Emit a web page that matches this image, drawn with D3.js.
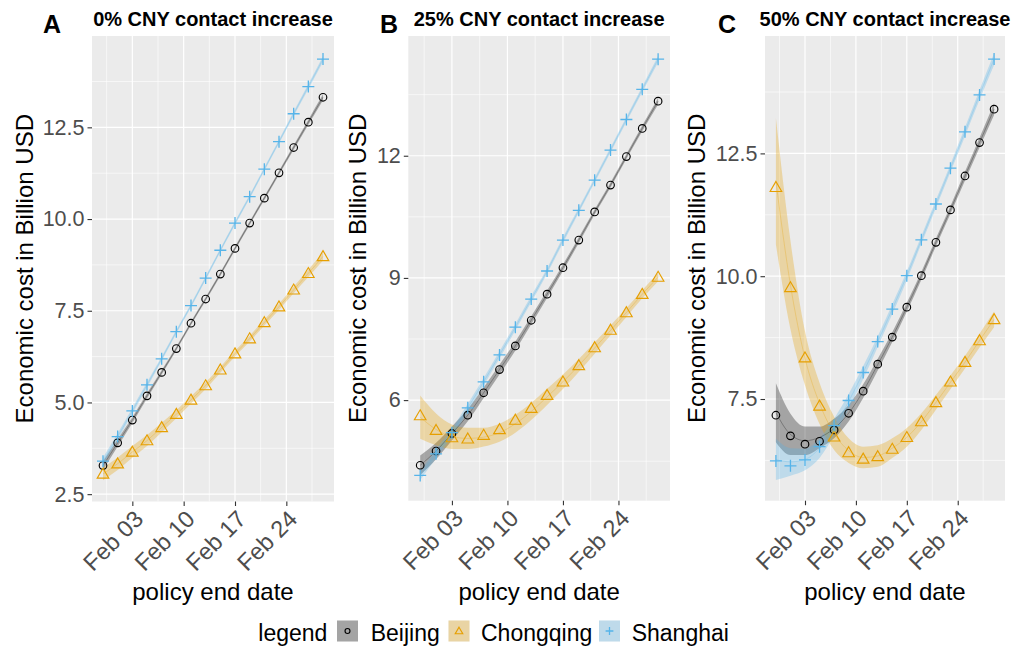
<!DOCTYPE html>
<html><head><meta charset="utf-8">
<script src="https://cdn.jsdelivr.net/npm/d3@7"></script>
<style>
body{margin:0;background:#fff;}
text{font-family:"Liberation Sans",Arial,sans-serif;}
</style>
</head><body>
<svg id="c" width="1029" height="650"></svg>
<script>
// ---------- DATA ----------
const dates = ["2020-01-30","2020-02-01","2020-02-03","2020-02-05","2020-02-07","2020-02-09","2020-02-11","2020-02-13",
               "2020-02-15","2020-02-17","2020-02-19","2020-02-21","2020-02-23","2020-02-25","2020-02-27","2020-02-29"];
const cities = ["Beijing","Chongqing","Shanghai"];
const xTickDates = ["2020-02-03","2020-02-10","2020-02-17","2020-02-24"];
const xTickLabels = ["Feb 03","Feb 10","Feb 17","Feb 24"];
const panelLetters = ["A","B","C"];
const panelTitles = ["0% CNY contact increase","25% CNY contact increase","50% CNY contact increase"];
const yTicksA = [2.5,5.0,7.5,10.0,12.5];
const yTicksB = [6,9,12];
const yTicksC = [7.5,10.0,12.5];

// Panel A
const beijingA   = [3.28,3.90,4.52,5.18,5.82,6.47,7.16,7.82,8.50,9.20,9.89,10.57,11.26,11.95,12.64,13.32];
const chongqingA = [3.05,3.33,3.65,3.96,4.32,4.68,5.07,5.46,5.89,6.33,6.74,7.18,7.61,8.07,8.52,8.98];
const shanghaiA  = [3.40,4.07,4.77,5.48,6.19,6.93,7.64,8.39,9.15,9.89,10.61,11.36,12.11,12.87,13.61,14.36];
const beijingA_se   = [0.12,0.10,0.08,0.07,0.06,0.05,0.05,0.05,0.05,0.05,0.05,0.05,0.05,0.06,0.07,0.08];
const chongqingA_se = [0.17,0.17,0.16,0.15,0.13,0.11,0.10,0.09,0.08,0.08,0.08,0.08,0.08,0.09,0.10,0.11];
const shanghaiA_se  = [0.10,0.09,0.08,0.07,0.06,0.05,0.05,0.05,0.05,0.05,0.05,0.05,0.05,0.06,0.07,0.08];

// Panel B
const beijingB   = [4.40,4.75,5.18,5.63,6.18,6.75,7.33,7.96,8.60,9.25,9.93,10.62,11.28,11.98,12.67,13.34];
const chongqingB = [5.62,5.26,5.08,5.05,5.14,5.28,5.51,5.80,6.12,6.45,6.85,7.29,7.72,8.15,8.60,9.02];
const shanghaiB  = [4.15,4.68,5.20,5.81,6.45,7.11,7.79,8.48,9.17,9.93,10.66,11.40,12.14,12.89,13.63,14.37];
const chongqingB_fit = [5.58,5.28,5.10,5.06,5.09,5.20,5.42,5.72,6.08,6.45,6.85,7.28,7.71,8.15,8.60,9.02];
const beijingB_se   = [0.24,0.20,0.17,0.15,0.13,0.12,0.11,0.10,0.09,0.08,0.07,0.06,0.06,0.06,0.07,0.08];
const chongqingB_se = [0.53,0.39,0.30,0.26,0.23,0.22,0.22,0.21,0.20,0.18,0.16,0.14,0.12,0.11,0.10,0.10];
const shanghaiB_se  = [0.11,0.11,0.10,0.10,0.09,0.09,0.08,0.08,0.07,0.07,0.06,0.06,0.06,0.06,0.07,0.08];

// Panel C
const beijingC   = [7.17,6.75,6.58,6.64,6.87,7.21,7.66,8.21,8.76,9.37,10.01,10.69,11.35,12.04,12.72,13.40];
const chongqingC = [11.81,9.77,8.34,7.36,6.73,6.41,6.28,6.33,6.48,6.72,7.04,7.43,7.85,8.25,8.69,9.12];
const shanghaiC  = [6.24,6.14,6.26,6.53,6.96,7.47,8.04,8.67,9.33,10.01,10.74,11.47,12.20,12.94,13.69,14.42];
const beijingC_fit   = [7.22,6.78,6.65,6.72,6.90,7.21,7.66,8.20,8.76,9.37,10.01,10.69,11.35,12.04,12.72,13.40];
const chongqingC_fit = [11.93,9.82,8.33,7.41,6.80,6.45,6.31,6.34,6.50,6.72,7.04,7.43,7.84,8.25,8.69,9.12];
const shanghaiC_fit  = [6.27,6.22,6.27,6.50,6.93,7.45,8.04,8.67,9.33,10.01,10.74,11.47,12.20,12.94,13.69,14.42];
const beijingC_se   = [0.60,0.42,0.29,0.22,0.20,0.17,0.14,0.12,0.10,0.09,0.08,0.08,0.08,0.09,0.10,0.12];
const chongqingC_se = [1.29,0.90,0.55,0.42,0.34,0.25,0.22,0.22,0.20,0.19,0.17,0.15,0.14,0.13,0.14,0.16];
const shanghaiC_se  = [0.42,0.28,0.22,0.20,0.17,0.15,0.13,0.11,0.10,0.09,0.08,0.08,0.08,0.09,0.10,0.12];

// ---------- STYLE / LAYOUT ----------
const colors = {Beijing:"#000000", Chongqing:"#E69F00", Shanghai:"#56B4E9"};
const shapes = {Beijing:"circle", Chongqing:"triangle", Shanghai:"plus"};
const panels = [
  {box:{l:92, r:334, t:36, b:501.5}, yDom:[2.30,14.99], yTicks:yTicksA, fmt:d3.format(".1f"),
   letterX:43, yTitleX:32.5,
   series:[{c:"Beijing",pts:beijingA,se:beijingA_se},{c:"Chongqing",pts:chongqingA,se:chongqingA_se},{c:"Shanghai",pts:shanghaiA,se:shanghaiA_se}]},
  {box:{l:408.3, r:670, t:36, b:500.7}, yDom:[3.53,14.94], yTicks:yTicksB, fmt:d3.format("d"),
   letterX:380, yTitleX:366,
   series:[{c:"Beijing",pts:beijingB,se:beijingB_se},{c:"Chongqing",pts:chongqingB,fit:chongqingB_fit,se:chongqingB_se},{c:"Shanghai",pts:shanghaiB,se:shanghaiB_se}]},
  {box:{l:765, r:1005, t:36, b:500.7}, yDom:[5.43,14.89], yTicks:yTicksC, fmt:d3.format(".1f"),
   letterX:718, yTitleX:705,
   series:[{c:"Beijing",pts:beijingC,fit:beijingC_fit,se:beijingC_se},{c:"Chongqing",pts:chongqingC,fit:chongqingC_fit,se:chongqingC_se},{c:"Shanghai",pts:shanghaiC,fit:shanghaiC_fit,se:shanghaiC_se}]}
];

const svg = d3.select("#c");
const parse = d3.utcParse("%Y-%m-%d");
const dateObjs = dates.map(parse);
const dExt = d3.extent(dateObjs);
const pad = (dExt[1]-dExt[0])*0.05;
const xDom = [new Date(+dExt[0]-pad), new Date(+dExt[1]+pad)];
const FF = '"Liberation Sans",Arial,sans-serif';

function drawShape(g, shape, color, x, y, s) {
  if (shape === "circle") {
    g.append("circle").attr("cx",x).attr("cy",y).attr("r",3.8*s)
      .attr("fill","none").attr("stroke",color).attr("stroke-width",1.15);
  } else if (shape === "triangle") {
    const h = 5.8*s;
    g.append("path").attr("d",`M${x},${y-h}L${x+h*1.0},${y+h*0.72}L${x-h*1.0},${y+h*0.72}Z`)
      .attr("fill","none").attr("stroke",color).attr("stroke-width",1.15);
  } else {
    const a = 6*s;
    g.append("path").attr("d",`M${x-a},${y}H${x+a}M${x},${y-a}V${y+a}`)
      .attr("fill","none").attr("stroke",color).attr("stroke-width",1.3);
  }
}

panels.forEach((p, pi) => {
  const B = p.box;
  const x = d3.scaleUtc().domain(xDom).range([B.l, B.r]);
  const y = d3.scaleLinear().domain(p.yDom).range([B.b, B.t]);
  const g = svg.append("g");
  g.append("rect").attr("x",B.l).attr("y",B.t).attr("width",B.r-B.l).attr("height",B.b-B.t).attr("fill","#EBEBEB");

  // grid
  const xt = xTickDates.map(parse);
  const step = xt[1]-xt[0];
  const xMinor = [new Date(+xt[0]-step/2)].concat(xt.map(t=>new Date(+t+step/2)));
  const yStep = p.yTicks[1]-p.yTicks[0];
  const yMinor = [];
  for (let v = p.yTicks[0]-yStep/2; v <= p.yDom[1]; v += yStep) if (v >= p.yDom[0]) yMinor.push(v);
  xMinor.forEach(t=>{ if (x(t)>B.l && x(t)<B.r) g.append("line").attr("x1",x(t)).attr("x2",x(t)).attr("y1",B.t).attr("y2",B.b).attr("stroke","#fff").attr("stroke-width",0.6);});
  yMinor.forEach(v=>g.append("line").attr("x1",B.l).attr("x2",B.r).attr("y1",y(v)).attr("y2",y(v)).attr("stroke","#fff").attr("stroke-width",0.6));
  xt.forEach(t=>g.append("line").attr("x1",x(t)).attr("x2",x(t)).attr("y1",B.t).attr("y2",B.b).attr("stroke","#fff").attr("stroke-width",1.2));
  p.yTicks.forEach(v=>g.append("line").attr("x1",B.l).attr("x2",B.r).attr("y1",y(v)).attr("y2",y(v)).attr("stroke","#fff").attr("stroke-width",1.2));

  // ribbons
  p.series.forEach(s=>{
    const fit = s.fit || s.pts;
    const rows = dateObjs.map((d,i)=>({d, lo:fit[i]-s.se[i], hi:fit[i]+s.se[i]}));
    const area = d3.area().x(r=>x(r.d)).y0(r=>y(r.lo)).y1(r=>y(r.hi)).curve(d3.curveMonotoneX);
    g.append("path").attr("d",area(rows)).attr("fill",colors[s.c]).attr("fill-opacity",0.3);
  });
  // smooth lines
  p.series.forEach(s=>{
    const fit = s.fit || s.pts;
    const rows = dateObjs.map((d,i)=>({d, f:fit[i]}));
    const line = d3.line().x(r=>x(r.d)).y(r=>y(r.f)).curve(d3.curveMonotoneX);
    g.append("path").attr("d",line(rows)).attr("fill","none").attr("stroke",colors[s.c]).attr("stroke-opacity",0.3).attr("stroke-width",0.9);
  });
  // points
  p.series.forEach(s=>{
    s.pts.forEach((v,i)=>drawShape(g, shapes[s.c], colors[s.c], x(dateObjs[i]), y(v), 1));
  });

  // axes
  const yAxis = d3.axisLeft(y).tickValues(p.yTicks).tickFormat(p.fmt).tickSize(4.5).tickPadding(3);
  const ya = g.append("g").attr("transform",`translate(${B.l},0)`).call(yAxis);
  ya.select(".domain").remove();
  ya.selectAll("line").attr("stroke","#333").attr("stroke-width",1.1);
  ya.selectAll("text").attr("fill","#4D4D4D").attr("font-size",21.5).attr("font-family",FF);

  const xAxis = d3.axisBottom(x).tickValues(xt).tickFormat((d,i)=>xTickLabels[i]).tickSize(4.5);
  const xa = g.append("g").attr("transform",`translate(0,${B.b})`).call(xAxis);
  xa.select(".domain").remove();
  xa.selectAll("line").attr("stroke","#333").attr("stroke-width",1.1);
  xa.selectAll("text").attr("fill","#4D4D4D").attr("font-size",23.5).attr("font-family",FF)
    .attr("text-anchor","end").attr("y",0).attr("dy","0.72em")
    .attr("transform","translate(0,7) rotate(-45)");

  // titles
  const cx = (B.l+B.r)/2;
  svg.append("text").attr("x",cx).attr("y",26).attr("text-anchor","middle")
    .attr("font-size",20).attr("font-weight","bold").text(panelTitles[pi]);
  svg.append("text").attr("x",p.letterX).attr("y",33).attr("font-size",25).attr("font-weight","bold").text(panelLetters[pi]);
  svg.append("text").attr("x",cx).attr("y",600).attr("text-anchor","middle").attr("font-size",24).text("policy end date");
  svg.append("text").attr("transform",`translate(${p.yTitleX},${(B.t+B.b)/2}) rotate(-90)`)
    .attr("text-anchor","middle").attr("font-size",24).text("Economic cost in Billion USD");
});

// legend
const lg = svg.append("g");
lg.append("text").attr("x",258.3).attr("y",641).attr("font-size",23).text("legend");
const keyX = [337, 448.5, 599];
const labX = [370.7, 481, 631.7];
cities.forEach((c,i)=>{
  lg.append("rect").attr("x",keyX[i]).attr("y",620.5).attr("width",21).attr("height",21).attr("fill","#EBEBEB");
  lg.append("rect").attr("x",keyX[i]).attr("y",620.5).attr("width",21).attr("height",21).attr("fill",colors[c]).attr("fill-opacity",0.3);
  drawShape(lg, shapes[c], colors[c], keyX[i]+10.5, 631, 0.65);
  lg.append("text").attr("x",labX[i]).attr("y",641).attr("font-size",23).text(c);
});
</script>
</body></html>
